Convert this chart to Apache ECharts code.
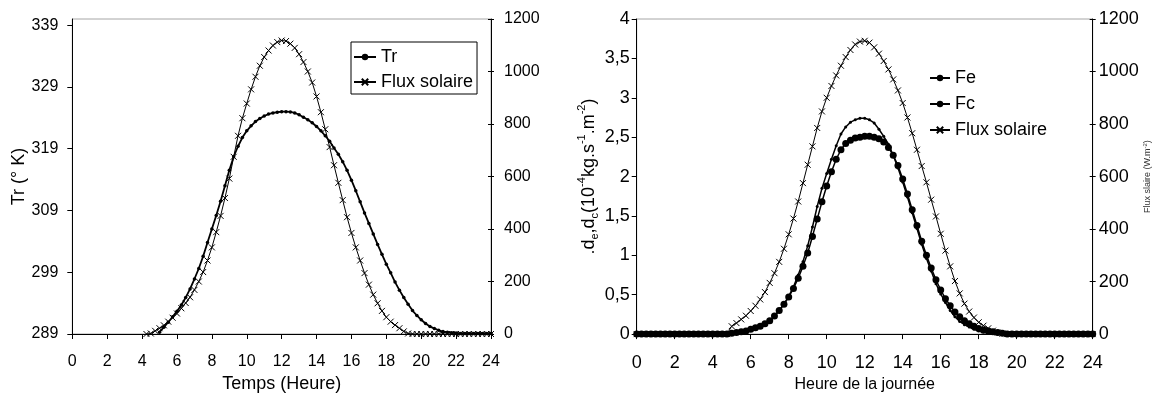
<!DOCTYPE html>
<html><head><meta charset="utf-8">
<script src="https://cdn.jsdelivr.net/npm/echarts@6/dist/echarts.min.js"></script>
<style>html,body{margin:0;padding:0;background:#fff}#c{width:1156px;height:398px}</style>
</head><body><div id="c"></div>
<script>
// ---------- DATA ----------
// left chart: hours for Tr (5 h .. 24 h, step 0.25)
const hoursTr = [5,5.25,5.5,5.75,6,6.25,6.5,6.75,7,7.25,7.5,7.75,8,8.25,8.5,8.75,9,9.25,9.5,9.75,10,10.25,10.5,10.75,11,11.25,11.5,11.75,12,12.25,12.5,12.75,13,13.25,13.5,13.75,14,14.25,14.5,14.75,15,15.25,15.5,15.75,16,16.25,16.5,16.75,17,17.25,17.5,17.75,18,18.25,18.5,18.75,19,19.25,19.5,19.75,20,20.25,20.5,20.75,21,21.25,21.5,21.75,22,22.25,22.5,22.75,23,23.25,23.5,23.75,24];
const tr = [289.3,290.1,290.9,291.8,292.7,293.7,294.9,296.3,297.9,299.6,301.6,303.8,306.0,308.2,310.5,313.0,315.5,317.7,319.4,320.8,321.9,322.7,323.4,323.9,324.3,324.6,324.8,324.9,325.0,325.0,324.95,324.8,324.5,324.1,323.7,323.2,322.6,321.9,321.1,320.2,319.1,318.1,316.9,315.5,313.9,312.2,310.4,308.6,306.9,305.2,303.5,301.9,300.3,298.9,297.4,296.1,294.9,293.8,292.8,292.0,291.3,290.7,290.2,289.9,289.6,289.4,289.3,289.2,289.15,289.1,289.1,289.1,289.1,289.1,289.1,289.1,289.1];
// left chart: solar flux (4.25 h .. 24 h)
const hoursFluxL = [4.25,4.5,4.75,5,5.25,5.5,5.75,6,6.25,6.5,6.75,7,7.25,7.5,7.75,8,8.25,8.5,8.75,9,9.25,9.5,9.75,10,10.25,10.5,10.75,11,11.25,11.5,11.75,12,12.25,12.5,12.75,13,13.25,13.5,13.75,14,14.25,14.5,14.75,15,15.25,15.5,15.75,16,16.25,16.5,16.75,17,17.25,17.5,17.75,18,18.25,18.5,18.75,19,19.25,19.5,19.75,20,20.25,20.5,20.75,21,21.25,21.5,21.75,22,22.25,22.5,22.75,23,23.25,23.5,23.75,24];
const fluxL = [0,2,12,22,33,47,62,78,98,118,140,168,200,236,280,330,388,450,518,592,675,755,822,878,932,980,1022,1055,1080,1099,1112,1118,1116,1106,1090,1066,1036,1000,958,905,845,780,712,643,576,510,445,385,330,280,232,188,150,117,88,64,47,34,22,10,2,0,0,0,0,0,0,0,0,0,0,0,0,0,0,0,0,0,0,0];
// right chart: hours 0 .. 24 step 0.25
const hoursR = [0,0.25,0.5,0.75,1,1.25,1.5,1.75,2,2.25,2.5,2.75,3,3.25,3.5,3.75,4,4.25,4.5,4.75,5,5.25,5.5,5.75,6,6.25,6.5,6.75,7,7.25,7.5,7.75,8,8.25,8.5,8.75,9,9.25,9.5,9.75,10,10.25,10.5,10.75,11,11.25,11.5,11.75,12,12.25,12.5,12.75,13,13.25,13.5,13.75,14,14.25,14.5,14.75,15,15.25,15.5,15.75,16,16.25,16.5,16.75,17,17.25,17.5,17.75,18,18.25,18.5,18.75,19,19.25,19.5,19.75,20,20.25,20.5,20.75,21,21.25,21.5,21.75,22,22.25,22.5,22.75,23,23.25,23.5,23.75,24];
const fe = [0,0,0,0,0,0,0,0,0,0,0,0,0,0,0,0,0,0,0,0,0.01,0.02,0.03,0.04,0.06,0.08,0.10,0.13,0.17,0.23,0.30,0.38,0.48,0.60,0.75,0.92,1.12,1.36,1.62,1.85,2.04,2.22,2.39,2.54,2.63,2.69,2.72,2.74,2.74,2.72,2.68,2.60,2.51,2.41,2.27,2.11,1.93,1.74,1.54,1.34,1.14,0.96,0.80,0.64,0.51,0.40,0.30,0.22,0.16,0.12,0.09,0.06,0.04,0.03,0.02,0.01,0,0,0,0,0,0,0,0,0,0,0,0,0,0,0,0,0,0,0,0,0];
const fc = [0,0,0,0,0,0,0,0,0,0,0,0,0,0,0,0,0,0,0,0,0.01,0.02,0.03,0.04,0.06,0.08,0.10,0.13,0.17,0.23,0.30,0.38,0.47,0.58,0.71,0.86,1.03,1.24,1.46,1.68,1.88,2.06,2.22,2.34,2.42,2.46,2.49,2.50,2.51,2.51,2.50,2.48,2.44,2.37,2.27,2.14,1.97,1.78,1.58,1.38,1.18,1.00,0.84,0.69,0.56,0.45,0.36,0.28,0.22,0.17,0.13,0.10,0.07,0.05,0.04,0.03,0.02,0.01,0,0,0,0,0,0,0,0,0,0,0,0,0,0,0,0,0,0,0];
const fluxR = [0,0,0,0,0,0,0,0,0,0,0,0,0,0,0,0,0,0,0,0,30,42,56,70,88,108,132,160,195,232,275,325,380,440,505,575,645,715,785,848,900,945,985,1022,1055,1082,1103,1114,1117,1110,1092,1068,1040,1008,970,928,880,825,765,702,640,578,512,448,382,318,258,202,155,116,86,63,45,32,22,13,6,2,0,0,0,0,0,0,0,0,0,0,0,0,0,0,0,0,0,0,0];
const trTicks = [289,299,309,319,329,339];

// ---------- CHART ----------
const FONT = '"Liberation Sans", Arial, sans-serif';
const pair = (xs, ys) => xs.map((x, i) => [x, ys[i]]);
const CROSS = 'path://M0 0L10 10M10 0L0 10';
const txt = (s) => ({ fontFamily: FONT, fontSize: s, color: '#000' });

function xAx(gi, name, gap, nsize, lsize) {
  return {
    type: 'value', gridIndex: gi, min: 0, max: 24, interval: 2,
    name: name, nameLocation: 'middle', nameGap: gap, nameTextStyle: txt(nsize),
    axisLine: { lineStyle: { color: '#000', width: 1 } },
    axisTick: { length: 5, lineStyle: { color: '#000' } },
    axisLabel: Object.assign(txt(lsize), { margin: 20 }),
    splitLine: { show: false }
  };
}
function yRight(gi, margin, lsize, name) {
  return {
    type: 'value', gridIndex: gi, position: 'right', min: 0, max: 1200, interval: 200,
    name: name || '', nameLocation: 'middle', nameRotate: 90, nameGap: 48,
    nameTextStyle: { fontFamily: FONT, fontSize: 9, color: '#333',
      rich: { sup: { fontFamily: FONT, fontSize: 6, color: '#333', verticalAlign: 'top' } } },
    axisLine: { show: true, lineStyle: { color: '#000' } },
    axisTick: { length: 3, lineStyle: { color: '#000' } },
    axisLabel: Object.assign(txt(lsize), { margin: margin, formatter: v => String(v) }),
    splitLine: { show: false }
  };
}
function yCross(gi) {
  return {
    type: 'value', gridIndex: gi, position: 'right', min: 0, max: 1200, interval: 200,
    axisLine: { show: false }, axisTick: { show: true, inside: true, length: 3, lineStyle: { color: '#000' } },
    axisLabel: { show: false }, splitLine: { show: false }
  };
}

const option = {
  animation: false,
  backgroundColor: '#fff',
  grid: [
    { left: 72.3, right: 1156 - 491, top: 19, bottom: 398 - 339, show: true, borderColor: '#a6a6a6', borderWidth: 1 },
    { left: 636.7, right: 1156 - 1092.7, top: 19, bottom: 398 - 339, show: true, borderColor: '#a6a6a6', borderWidth: 1 }
  ],
  xAxis: [
    xAx(0, 'Temps (Heure)', 41, 18, 16),
    xAx(1, 'Heure de la journée', 42, 16, 18)
  ],
  yAxis: [
    {
      type: 'value', gridIndex: 0, position: 'left', min: 289, max: 340,
      name: 'Tr (° K)', nameLocation: 'middle', nameGap: 41, nameTextStyle: txt(18),
      axisLine: { show: true, lineStyle: { color: '#000' } },
      axisTick: { length: 5, lineStyle: { color: '#000' }, customValues: trTicks },
      axisLabel: Object.assign(txt(16), { margin: 14, customValues: trTicks }),
      splitLine: { show: false }
    },
    yRight(0, 13, 16),
    yCross(0),
    {
      type: 'value', gridIndex: 1, position: 'left', min: 0, max: 4, interval: 0.5,
      name: '.d{sub|e},d{sub|c}(10{sup|-4}kg.s{sup|-1}.m{sup|-2})',
      nameLocation: 'middle', nameGap: 29,
      nameTextStyle: {
        fontFamily: FONT, fontSize: 18, color: '#000', lineHeight: 24,
        rich: {
          sub: { fontFamily: FONT, fontSize: 11, color: '#000', verticalAlign: 'bottom', lineHeight: 24 },
          sup: { fontFamily: FONT, fontSize: 11, color: '#000', verticalAlign: 'top', lineHeight: 24 }
        }
      },
      axisLine: { show: true, lineStyle: { color: '#000' } },
      axisTick: { length: 5, lineStyle: { color: '#000' } },
      axisLabel: Object.assign(txt(18), { margin: 7, formatter: v => String(v).replace('.', ',') }),
      splitLine: { show: false }
    },
    yRight(1, 6, 18, 'Flux slaire (W.m{sup|-2})'),
    yCross(1)
  ],
  legend: [
    {
      orient: 'vertical', left: 351, top: 42, padding: [6, 4, 3, 2],
      borderColor: '#000', borderWidth: 1, itemGap: 7, itemWidth: 22, itemHeight: 8,
      textStyle: txt(18), data: ['Tr', 'Flux solaire'], seriesIndex: [0, 1]
    },
    {
      orient: 'vertical', left: 929, top: 69, padding: 0,
      itemGap: 8, itemWidth: 20, itemHeight: 8,
      textStyle: txt(18), data: ['Fe', 'Fc', 'Flux solaire ']
    }
  ],
  series: [
    { name: 'Tr', type: 'line', xAxisIndex: 0, yAxisIndex: 0, data: pair(hoursTr, tr),
      symbol: 'circle', symbolSize: 3.5, showAllSymbol: true,
      lineStyle: { color: '#000', width: 1.8 }, itemStyle: { color: '#000' } },
    { name: 'Flux solaire', type: 'line', xAxisIndex: 0, yAxisIndex: 1, data: pair(hoursFluxL, fluxL),
      symbol: CROSS, symbolSize: 6, showAllSymbol: true,
      lineStyle: { color: '#000', width: 1 }, itemStyle: { color: '#000', borderColor: '#000', borderWidth: 1 } },
    { name: 'Fe', type: 'line', xAxisIndex: 1, yAxisIndex: 3, data: pair(hoursR, fe),
      symbol: 'circle', symbolSize: 3, showAllSymbol: true,
      lineStyle: { color: '#000', width: 1.5 }, itemStyle: { color: '#000' } },
    { name: 'Fc', type: 'line', xAxisIndex: 1, yAxisIndex: 3, data: pair(hoursR, fc),
      symbol: 'circle', symbolSize: 7, showAllSymbol: true,
      lineStyle: { color: '#000', width: 1.5 }, itemStyle: { color: '#000' } },
    { name: 'Flux solaire ', type: 'line', xAxisIndex: 1, yAxisIndex: 4, data: pair(hoursR, fluxR),
      symbol: CROSS, symbolSize: 6, showAllSymbol: true,
      lineStyle: { color: '#000', width: 1 }, itemStyle: { color: '#000', borderColor: '#000', borderWidth: 1 } }
  ]
};
const chart = echarts.init(document.getElementById('c'), null, { renderer: 'canvas' });
chart.setOption(option);
</script></body></html>
